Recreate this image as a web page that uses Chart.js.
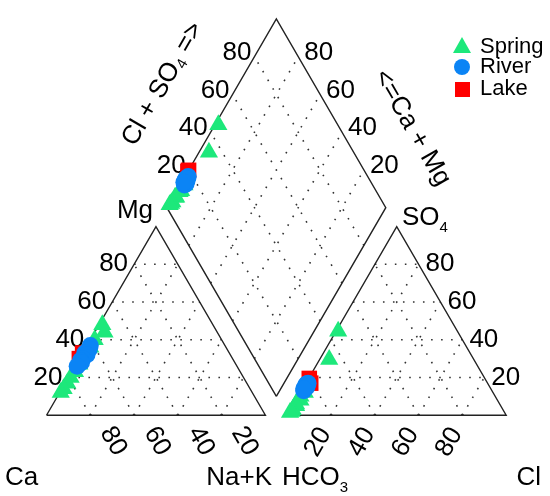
<!DOCTYPE html>
<html>
<head>
<meta charset="utf-8">
<script src="https://cdn.jsdelivr.net/npm/chart.js@4.4.0/dist/chart.umd.min.js"></script>
<style>
  html, body { margin: 0; padding: 0; background: #fff; }
  canvas { display: block; }
</style>
</head>
<body>
<canvas id="piperChart" width="550" height="496"></canvas>
<script>
// percent of meq/L, Ca = 100 - Mg - NaK, HCO3 = 100 - SO4 - Cl
const springMg  = [48, 44, 40, 36, 27, 23, 20, 17, 14, 12];
const springNaK = [1.5, 4.5, 2, 2, 1.5, 1.5, 1, 1, 0.8, 0.5];
const springSO4 = [44.5, 29.5, 12, 10, 8, 6, 5, 3, 2, 1.5];
const springCl  = [1, 4.4, 2, 1, 2, 1, 1.5, 1, 1, 0.5];

const riverMg  = [37, 35, 33, 32, 30, 29, 28, 26];
const riverNaK = [1.5, 2, 1, 2.5, 1.5, 1, 2, 1];
const riverSO4 = [17, 16, 15, 14, 16.5, 15, 13, 14];
const riverCl  = [1, 0.5, 1, 1, 0.5, 1.5, 1, 0.5];

const lakeMg  = [33, 30];
const lakeNaK = [0, 0];
const lakeSO4 = [19.5, 17];
const lakeCl  = [0.3, 2.2];

const tickValues = [20, 40, 60, 80];
const groupNames = ['Spring', 'River', 'Lake'];
const groupColors = ['#1de87b', '#0b84f5', '#ff0000'];

const H = Math.sqrt(3) / 2;
const GAP = 10;
const FONT = '"Liberation Sans", Arial, sans-serif';

function cationPoint(mg, nak) { return { x: nak + mg / 2, y: mg * H }; }
function anionPoint(so4, cl) { return { x: 100 + GAP + cl + so4 / 2, y: so4 * H }; }
function diamondPoint(camg, clso4) {
    return { x: 100 + GAP / 2 + (clso4 - camg) / 2, y: GAP * H + (camg + clso4) * H };
}
const gapPt = { x: null, y: null };

function samplePoints(mg, nak, so4, cl) {
    const pts = [];
    mg.forEach((m, i) => {
        pts.push(cationPoint(m, nak[i]));
        pts.push(anionPoint(so4[i], cl[i]));
        pts.push(diamondPoint(100 - nak[i], so4[i] + cl[i]));
    });
    return pts;
}

// outlines of the two triangles and the diamond
const outline = [
    cationPoint(0, 0), cationPoint(100, 0), cationPoint(0, 100), cationPoint(0, 0), gapPt,
    anionPoint(0, 0), anionPoint(100, 0), anionPoint(0, 100), anionPoint(0, 0), gapPt,
    diamondPoint(0, 0), diamondPoint(100, 0), diamondPoint(100, 100), diamondPoint(0, 100), diamondPoint(0, 0)
];

// dotted grid at 20/40/60/80
const grid = [];
tickValues.forEach(k => {
    [cationPoint, anionPoint].forEach(f => {
        grid.push(f(k, 0), f(k, 100 - k), gapPt);
        grid.push(f(0, k), f(100 - k, k), gapPt);
        grid.push(f(0, 100 - k), f(100 - k, 0), gapPt);
    });
    grid.push(diamondPoint(k, 0), diamondPoint(k, 100), gapPt);
    grid.push(diamondPoint(0, k), diamondPoint(100, k), gapPt);
});

function richText(ctx, parts, x, y, align) {
    const big = ctx.font;
    const small = '15px ' + FONT;
    let total = 0;
    parts.forEach(p => { ctx.font = p[1] ? small : big; total += ctx.measureText(p[0]).width; });
    let cx = align === 'center' ? x - total / 2 : (align === 'right' ? x - total : x);
    ctx.textAlign = 'left';
    parts.forEach(p => {
        ctx.font = p[1] ? small : big;
        ctx.fillText(p[0], cx, p[1] ? y + 7 : y);
        cx += ctx.measureText(p[0]).width;
    });
    ctx.font = big;
}

const piperLabels = {
    id: 'piperLabels',
    beforeDatasetsDraw(chart) {
        const { ctx, scales: { x, y } } = chart;
        const px = p => [x.getPixelForValue(p.x), y.getPixelForValue(p.y)];
        ctx.save();
        ctx.fillStyle = '#000';
        ctx.font = '26px ' + FONT;
        ctx.textBaseline = 'middle';
        tickValues.forEach(k => {
            let a, b;
            // Mg on the left side of the cation triangle
            [a, b] = px(cationPoint(k, 0));
            ctx.textAlign = 'right';
            ctx.fillText(String(k), a - 6, b);
            // Ca along the cation base
            [a, b] = px(cationPoint(0, k));
            ctx.save(); ctx.translate(a + 23, b + 26); ctx.rotate(Math.PI / 3);
            ctx.textAlign = 'center'; ctx.fillText(String(100 - k), 0, 0); ctx.restore();
            // Cl along the anion base
            [a, b] = px(anionPoint(0, k));
            ctx.save(); ctx.translate(a - 13, b + 27); ctx.rotate(-Math.PI / 3);
            ctx.textAlign = 'center'; ctx.fillText(String(k), 0, 0); ctx.restore();
            // SO4 on the right side of the anion triangle
            [a, b] = px(anionPoint(k, 100 - k));
            ctx.textAlign = 'left';
            ctx.fillText(String(k), a + 7, b);
            // diamond, Cl + SO4
            [a, b] = px(diamondPoint(100, k));
            ctx.textAlign = 'right';
            ctx.fillText(String(k), a - 3, b - 4);
            // diamond, Ca + Mg
            [a, b] = px(diamondPoint(k, 100));
            ctx.textAlign = 'left';
            ctx.fillText(String(k), a + 6, b - 4);
        });

        ctx.textBaseline = 'alphabetic';
        ctx.textAlign = 'left';
        ctx.fillText('Ca', 5, 485);
        ctx.textAlign = 'right';
        ctx.fillText('Na+K', 272, 485);
        richText(ctx, [['HCO', false], ['3', true]], 282, 485, 'left');
        ctx.textAlign = 'right';
        ctx.fillText('Cl', 541, 485);
        ctx.textAlign = 'right';
        ctx.fillText('Mg', 153, 218);
        richText(ctx, [['SO', false], ['4', true]], 402, 225, 'left');

        ctx.textBaseline = 'middle';
        ctx.save(); ctx.translate(163, 84); ctx.rotate(-Math.PI / 3);
        richText(ctx, [['Cl + SO', false], ['4', true], [' =>', false]], 0, 0, 'center');
        ctx.restore();
        ctx.save(); ctx.translate(412, 128); ctx.rotate(Math.PI / 3);
        ctx.textAlign = 'center'; ctx.fillText('<=Ca + Mg', 0, 0);
        ctx.restore();
        ctx.restore();
    },
    afterDraw(chart) {
        const ctx = chart.ctx;
        ctx.save();
        ctx.font = '22px ' + FONT;
        ctx.textBaseline = 'middle';
        ctx.textAlign = 'left';
        const rows = [47, 67, 89];
        groupNames.forEach((name, i) => {
            const cy = rows[i];
            ctx.fillStyle = groupColors[i];
            ctx.beginPath();
            if (i === 0) {
                ctx.moveTo(462, cy - 10); ctx.lineTo(471, cy + 6); ctx.lineTo(453, cy + 6);
                ctx.closePath(); ctx.fill();
            } else if (i === 1) {
                ctx.arc(462, cy, 8, 0, Math.PI * 2); ctx.fill();
            } else {
                ctx.fillRect(455, cy - 7, 15, 15);
            }
            ctx.fillStyle = '#000';
            ctx.fillText(name, 480, cy);
        });
        ctx.restore();
    }
};

const ctx = document.getElementById('piperChart').getContext('2d');
new Chart(ctx, {
    type: 'scatter',
    data: {
        datasets: [
            {
                label: 'River',
                data: samplePoints(riverMg, riverNaK, riverSO4, riverCl),
                pointStyle: 'circle',
                pointRadius: 8.5,
                backgroundColor: groupColors[1],
                pointBorderWidth: 0,
                borderWidth: 0,
                order: 0
            },
            {
                label: 'Lake',
                data: samplePoints(lakeMg, lakeNaK, lakeSO4, lakeCl),
                pointStyle: 'rect',
                pointRadius: 11,
                backgroundColor: groupColors[2],
                pointBorderWidth: 0,
                borderWidth: 0,
                order: 1
            },
            {
                label: 'Spring',
                data: samplePoints(springMg, springNaK, springSO4, springCl),
                pointStyle: 'triangle',
                pointRadius: 10.5,
                backgroundColor: groupColors[0],
                pointBorderWidth: 0,
                borderWidth: 0,
                order: 2
            },
            {
                label: 'outline',
                data: outline,
                showLine: true,
                spanGaps: false,
                pointRadius: 0,
                borderColor: '#222',
                borderWidth: 1.4,
                order: 3
            },
            {
                label: 'grid',
                data: grid,
                showLine: true,
                spanGaps: false,
                pointRadius: 0,
                borderColor: '#333',
                borderWidth: 1.6,
                borderDash: [1.6, 8.4],
                order: 4
            }
        ]
    },
    options: {
        responsive: false,
        animation: false,
        layout: { padding: 0 },
        plugins: {
            legend: { display: false },
            tooltip: { enabled: false }
        },
        scales: {
            x: { type: 'linear', display: false, min: -16.23, max: 225.0 },
            y: { type: 'linear', display: false, min: -32.02, max: 185.53 }
        }
    },
    plugins: [piperLabels]
});
</script>
</body>
</html>
